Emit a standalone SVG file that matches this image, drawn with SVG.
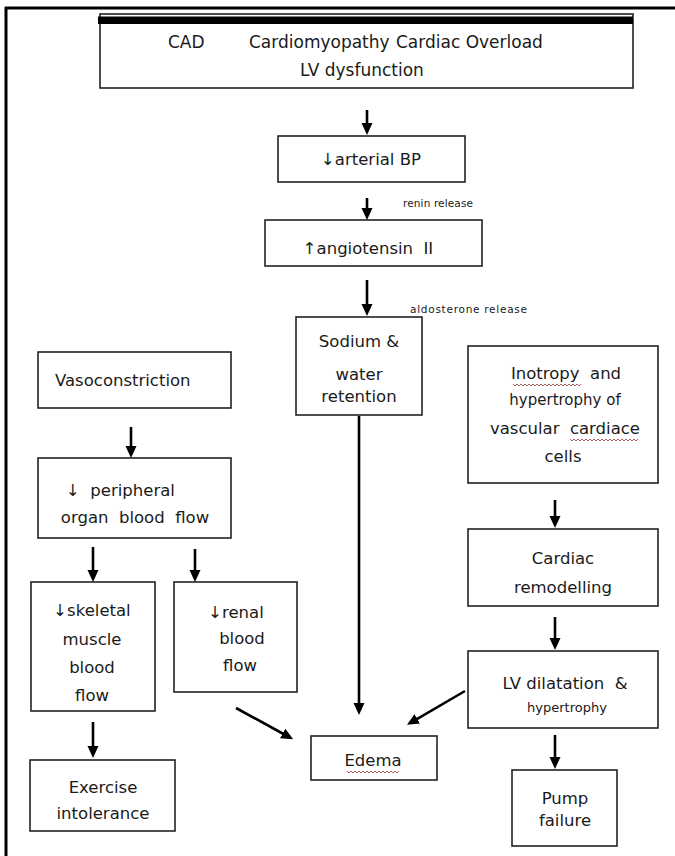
<svg xmlns="http://www.w3.org/2000/svg" width="675" height="856" viewBox="0 0 675 856">
  <style>
    .box { fill: #ffffff; stroke: #222222; stroke-width: 1.6; }
    .t { font-family: "DejaVu Sans", "Liberation Sans", sans-serif; font-size: 16.5px; fill: #1a1a1a; text-anchor: middle; }
    .sm { font-size: 13px; }
    .note { font-family: "DejaVu Sans", "Liberation Sans", sans-serif; font-size: 10.5px; fill: #1a1a1a; }
    .arrow { stroke: #000000; stroke-width: 2.6; fill: none; marker-end: url(#head); }
    .squiggle { fill: none; stroke: #b06060; stroke-width: 1; }
    .frame { stroke: #000000; stroke-width: 3; }
  </style>
  <defs>
    <marker id="head" viewBox="0 0 12 12" markerWidth="12" markerHeight="12" markerUnits="userSpaceOnUse" refX="2" refY="6" orient="auto">
      <path d="M0,0.5 L12,6 L0,11.5 z" fill="#000000"/>
    </marker>
  </defs>

  <rect width="675" height="856" fill="#ffffff"/>

  <!-- page frame: top and left rules -->
  <g id="frame">
    <line class="frame" x1="5" y1="8" x2="675" y2="8"/>
    <line class="frame" x1="6" y1="7" x2="6" y2="856"/>
  </g>

  <!-- causes -->
  <g id="causes">
    <rect class="box" x="100" y="14" width="533" height="74"/>
    <rect x="98" y="16.5" width="535" height="7.5" fill="#000000"/>
    <text class="t" style="font-size:17px;text-anchor:start" y="48"><tspan x="168">CAD</tspan><tspan x="249">Cardiomyopathy</tspan><tspan x="396">Cardiac Overload</tspan></text>
    <text class="t" style="font-size:17px" x="362" y="76">LV dysfunction</text>
  </g>

  <g id="arterial-bp">
    <rect class="box" x="278" y="136" width="187" height="46"/>
    <text class="t" x="371" y="165">↓arterial BP</text>
  </g>

  <g id="angiotensin">
    <rect class="box" x="265" y="220" width="217" height="46"/>
    <text class="t" x="368" y="254" xml:space="preserve">↑angiotensin  II</text>
  </g>

  <g id="sodium-retention">
    <rect class="box" x="296" y="317" width="126" height="98"/>
    <text class="t" x="359" y="347">Sodium &amp;</text>
    <text class="t" x="359" y="380">water</text>
    <text class="t" x="359" y="402">retention</text>
  </g>

  <g id="vasoconstriction">
    <rect class="box" x="38" y="352" width="193" height="56"/>
    <text class="t" style="text-anchor:start" x="55" y="386">Vasoconstriction</text>
  </g>

  <g id="peripheral-flow">
    <rect class="box" x="38" y="458" width="193" height="80"/>
    <text class="t" style="text-anchor:start" x="66" y="496" xml:space="preserve">↓  peripheral</text>
    <text class="t" x="135" y="523" xml:space="preserve">organ  blood  flow</text>
  </g>

  <g id="skeletal-flow">
    <rect class="box" x="31" y="582" width="124" height="129"/>
    <text class="t" x="92" y="616">↓skeletal</text>
    <text class="t" x="92" y="645">muscle</text>
    <text class="t" x="92" y="673">blood</text>
    <text class="t" x="92" y="701">flow</text>
  </g>

  <g id="renal-flow">
    <rect class="box" x="174" y="582" width="123" height="110"/>
    <text class="t" x="236" y="618">↓renal</text>
    <text class="t" x="242" y="644">blood</text>
    <text class="t" x="240" y="671">flow</text>
  </g>

  <g id="exercise-intolerance">
    <rect class="box" x="30" y="760" width="145" height="71"/>
    <text class="t" x="103" y="793">Exercise</text>
    <text class="t" x="103" y="819">intolerance</text>
  </g>

  <g id="edema">
    <rect class="box" x="311" y="736" width="126" height="44"/>
    <text class="t" x="373" y="766">Edema</text>
    <path class="squiggle" d="M347,771 l2,2 l2,-2 l2,2 l2,-2 l2,2 l2,-2 l2,2 l2,-2 l2,2 l2,-2 l2,2 l2,-2 l2,2 l2,-2 l2,2 l2,-2 l2,2 l2,-2 l2,2 l2,-2 l2,2 l2,-2 l2,2 l2,-2 l2,2 l2,-2"/>
  </g>

  <g id="inotropy">
    <rect class="box" x="468" y="346" width="190" height="137"/>
    <text class="t" x="566" y="379" xml:space="preserve">Inotropy  and</text>
    <path class="squiggle" d="M513,384 l2,2 l2,-2 l2,2 l2,-2 l2,2 l2,-2 l2,2 l2,-2 l2,2 l2,-2 l2,2 l2,-2 l2,2 l2,-2 l2,2 l2,-2 l2,2 l2,-2 l2,2 l2,-2 l2,2 l2,-2 l2,2 l2,-2 l2,2 l2,-2 l2,2 l2,-2 l2,2 l2,-2 l2,2 l2,-2 l2,2 l2,-2"/>
    <text class="t" style="font-size:15px" x="565" y="405">hypertrophy of</text>
    <text class="t" x="565" y="434" xml:space="preserve">vascular  cardiace</text>
    <path class="squiggle" d="M570,439 l2,2 l2,-2 l2,2 l2,-2 l2,2 l2,-2 l2,2 l2,-2 l2,2 l2,-2 l2,2 l2,-2 l2,2 l2,-2 l2,2 l2,-2 l2,2 l2,-2 l2,2 l2,-2 l2,2 l2,-2 l2,2 l2,-2 l2,2 l2,-2 l2,2 l2,-2 l2,2 l2,-2 l2,2 l2,-2 l2,2 l2,-2"/>
    <text class="t" x="563" y="462">cells</text>
  </g>

  <g id="cardiac-remodelling">
    <rect class="box" x="468" y="529" width="190" height="77"/>
    <text class="t" x="563" y="564">Cardiac</text>
    <text class="t" x="563" y="593">remodelling</text>
  </g>

  <g id="lv-dilatation">
    <rect class="box" x="468" y="651" width="190" height="77"/>
    <text class="t" x="565" y="689" xml:space="preserve">LV dilatation  &amp;</text>
    <text class="t sm" x="567" y="712">hypertrophy</text>
  </g>

  <g id="pump-failure">
    <rect class="box" x="512" y="770" width="105" height="76"/>
    <text class="t" x="565" y="804">Pump</text>
    <text class="t" x="565" y="826">failure</text>
  </g>

  <!-- connectors -->
  <g id="connectors">
    <line class="arrow" x1="367" y1="110" x2="367" y2="125"/>
    <line class="arrow" x1="367" y1="198" x2="367" y2="210"/>
    <text class="note" x="403" y="207" textLength="70">renin release</text>
    <line class="arrow" x1="367" y1="280" x2="367" y2="306"/>
    <text class="note" x="410" y="313" textLength="117">aldosterone release</text>
    <line class="arrow" x1="359" y1="416" x2="359" y2="705"/>
    <line class="arrow" x1="131" y1="427" x2="131" y2="448"/>
    <line class="arrow" x1="93" y1="547" x2="93" y2="572"/>
    <line class="arrow" x1="195" y1="549" x2="195" y2="572"/>
    <line class="arrow" x1="93" y1="722" x2="93" y2="748"/>
    <line class="arrow" x1="236" y1="708" x2="284.4" y2="734.5"/>
    <line class="arrow" x1="555" y1="500" x2="555" y2="518"/>
    <line class="arrow" x1="555" y1="617" x2="555" y2="640"/>
    <line class="arrow" x1="555" y1="735" x2="555" y2="759"/>
    <line class="arrow" x1="465" y1="691" x2="415.6" y2="719.8"/>
  </g>
</svg>
